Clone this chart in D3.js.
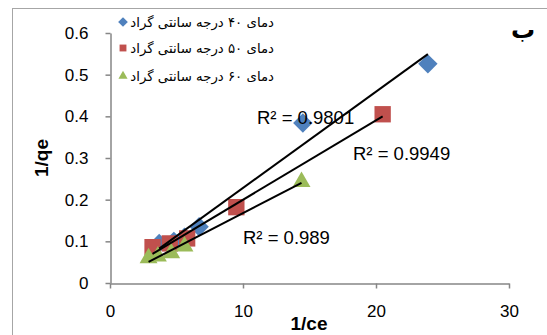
<!DOCTYPE html>
<html>
<head>
<meta charset="utf-8">
<script src="https://cdn.jsdelivr.net/npm/d3@7"></script>
<style>
  html, body { margin: 0; padding: 0; background: #fff; }
  svg { display: block; }
</style>
</head>
<body>
<svg id="chart" width="547" height="335"></svg>
<script>
// Langmuir-style linearised isotherm: 1/qe against 1/ce at three temperatures
const seriesNames = [
  "دمای ۴۰ درجه سانتی گراد",
  "دمای ۵۰ درجه سانتی گراد",
  "دمای ۶۰ درجه سانتی گراد"
];
const x40 = [3.7, 4.8, 5.6, 6.7, 14.5, 23.9];
const y40 = [0.095, 0.100, 0.110, 0.135, 0.384, 0.526];
const x50 = [3.2, 4.5, 5.8, 9.5, 20.5];
const y50 = [0.086, 0.095, 0.107, 0.182, 0.405];
const x60 = [2.9, 3.6, 4.6, 5.6, 14.4];
const y60 = [0.060, 0.064, 0.072, 0.088, 0.243];
const r2Labels = ["R² = 0.9801", "R² = 0.9949", "R² = 0.989"];
const xTicks = [0, 10, 20, 30];
const yTicks = [0, 0.1, 0.2, 0.3, 0.4, 0.5, 0.6];
const xTitle = "1/ce";
const yTitle = "1/qe";
const panelLetter = "ب";

const colors = ["#4F81BD", "#C0504D", "#9BBB59"];
const symbols = [d3.symbolDiamond2, d3.symbolSquare2, d3.symbolTriangle2];

const series = [
  { xs: x40, ys: y40 },
  { xs: x50, ys: y50 },
  { xs: x60, ys: y60 }
];

const svg = d3.select("#chart");
const numFont = "'Liberation Sans', Arial, sans-serif";

// chart frame
svg.append("rect")
  .attr("x", 12.5).attr("y", 8.5)
  .attr("width", 600).attr("height", 400)
  .attr("fill", "#fff").attr("stroke", "#a6a6a6").attr("stroke-width", 1);

const x = d3.scaleLinear().domain([0, 30]).range([110, 509]);
const y = d3.scaleLinear().domain([0, 0.6]).range([283, 33]);

// axes
const yAxis = svg.append("g")
  .attr("transform", "translate(110.5,0)")
  .call(d3.axisLeft(y).tickValues(yTicks).tickSize(5).tickSizeOuter(0).tickPadding(17)
    .tickFormat(d => d === 0 ? "0" : d.toFixed(1)));
const xAxis = svg.append("g")
  .attr("transform", "translate(0,283.5)")
  .call(d3.axisBottom(x).tickValues(xTicks).tickSize(5).tickSizeOuter(0).tickPadding(16)
    .tickFormat(d3.format("d")));
[yAxis, xAxis].forEach(g => {
  g.select(".domain").attr("stroke", "#868686").attr("stroke-width", 1.5);
  g.selectAll(".tick line").attr("stroke", "#868686").attr("stroke-width", 1.5);
  g.selectAll(".tick text").attr("fill", "#000")
    .style("font-family", numFont).style("font-size", "17px");
});

// axis titles
svg.append("text")
  .attr("transform", "translate(48,158) rotate(-90)")
  .attr("text-anchor", "middle")
  .style("font-family", numFont).style("font-weight", "bold").style("font-size", "19px")
  .text(yTitle);
svg.append("text")
  .attr("x", 309).attr("y", 330)
  .attr("text-anchor", "middle")
  .style("font-family", numFont).style("font-weight", "bold").style("font-size", "19px")
  .text(xTitle);

// markers
const markerSizes = [240, 340, 230];
series.forEach((s, i) => {
  svg.append("g").selectAll("path")
    .data(s.xs.map((v, k) => [v, s.ys[k]]))
    .join("path")
    .attr("transform", d => `translate(${x(d[0])},${y(d[1])})`)
    .attr("d", d3.symbol(symbols[i], markerSizes[i]))
    .attr("fill", colors[i]);
});

// least-squares trend lines spanning each series' data range
function fit(xs, ys) {
  const mx = d3.mean(xs), my = d3.mean(ys);
  let sxy = 0, sxx = 0;
  xs.forEach((v, k) => { sxy += (v - mx) * (ys[k] - my); sxx += (v - mx) * (v - mx); });
  const b = sxy / sxx;
  return v => my + b * (v - mx);
}
series.forEach(s => {
  const f = fit(s.xs, s.ys);
  const [x0, x1] = d3.extent(s.xs);
  svg.append("line")
    .attr("x1", x(x0)).attr("y1", y(f(x0)))
    .attr("x2", x(x1)).attr("y2", y(f(x1)))
    .attr("stroke", "#000").attr("stroke-width", 2);
});

// R² labels
const r2Pos = [[257, 124], [353, 160], [243, 244]];
r2Labels.forEach((t, i) => {
  svg.append("text")
    .attr("x", r2Pos[i][0]).attr("y", r2Pos[i][1])
    .style("font-family", numFont).style("font-size", "18.5px")
    .text(t);
});

// legend: marker on the left, right-to-left label ending at a fixed right edge
const legendRows = [22, 48, 76];
seriesNames.forEach((name, i) => {
  svg.append("path")
    .attr("transform", `translate(123,${legendRows[i]})`)
    .attr("d", d3.symbol(symbols[i], 60))
    .attr("fill", colors[i]);
  svg.append("text")
    .attr("x", 274).attr("y", legendRows[i] + 4.5)
    .attr("text-anchor", "end")
    .style("font-family", "'DejaVu Sans', sans-serif").style("font-size", "13.3px")
    .text(name);
});

// panel letter
svg.append("text")
  .attr("x", 523).attr("y", 38)
  .attr("text-anchor", "middle")
  .style("font-family", "'DejaVu Sans', sans-serif").style("font-weight", "bold").style("font-size", "24px")
  .text(panelLetter);
</script>
</body>
</html>
